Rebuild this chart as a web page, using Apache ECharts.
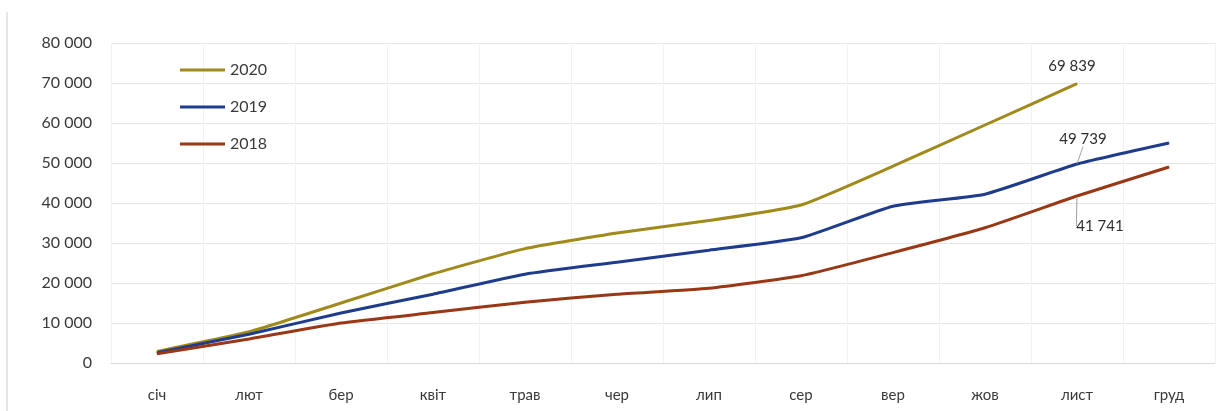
<!DOCTYPE html>
<html>
<head>
<meta charset="utf-8">
<script src="https://cdn.jsdelivr.net/npm/echarts@6/dist/echarts.min.js"></script>
<style>
  html, body { margin: 0; padding: 0; background: #ffffff; }
  #chart { width: 1229px; height: 411px; }
</style>
</head>
<body>
<div id="chart"></div>
<script>
const months = ['січ', 'лют', 'бер', 'квіт', 'трав', 'чер', 'лип', 'сер', 'вер', 'жов', 'лист', 'груд'];
const seriesNames = ['2020', '2019', '2018'];
const values2020 = [2900, 7800, 15000, 22300, 28600, 32500, 35600, 39500, 49200, 59500, 69839, null];
const values2019 = [2600, 7200, 12500, 17200, 22200, 25200, 28200, 31300, 39200, 42200, 49739, 55000];
const values2018 = [2300, 6000, 10000, 12600, 15200, 17200, 18700, 21800, 27600, 33800, 41741, 49000];
const labelIndex = 10;

function fmt(v) {
  return String(Math.round(v)).replace(/\B(?=(\d{3})+(?!\d))/g, ' ');
}

const FONT = 'Lato, "Open Sans", sans-serif';
const colors = ['#a08a1c', '#1f3c8c', '#983816'];

function makeData(arr, labelCfg) {
  return arr.map((v, i) => {
    if (i === labelIndex && v != null) {
      return {
        value: v,
        label: Object.assign({
          show: true,
          formatter: (p) => fmt(p.value),
          color: '#2e2e2e',
          fontFamily: FONT,
          fontSize: 15
        }, labelCfg.label),
        labelLine: labelCfg.line ? { show: true, lineStyle: { color: '#a0a0a0', width: 1 } } : { show: false }
      };
    }
    return v;
  });
}

const chart = echarts.init(document.getElementById('chart'), null, { renderer: 'canvas' });

function lineSeries(name, idx, data, extra) {
  return Object.assign({
    name: name, type: 'line', smooth: 0.15,
    symbol: 'circle', symbolSize: 1, showSymbol: true,
    itemStyle: { color: colors[idx] },
    lineStyle: { width: 3, color: colors[idx] },
    data: data
  }, extra || {});
}

const option = {
  animation: false,
  backgroundColor: '#ffffff',
  color: colors,
  grid: { left: 111, right: 14, top: 43, bottom: 48, containLabel: false },
  legend: {
    orient: 'vertical',
    left: 175,
    top: 57,
    itemWidth: 45,
    itemHeight: 3,
    itemGap: 21,
    icon: 'rect',
    data: seriesNames,
    textStyle: { color: '#3a3a3a', fontFamily: FONT, fontSize: 16 }
  },
  xAxis: {
    type: 'category',
    data: months,
    boundaryGap: true,
    axisLine: { show: true, lineStyle: { color: '#d9d9d9', width: 1 } },
    axisTick: { show: false },
    axisLabel: { color: '#3a3a3a', fontFamily: FONT, fontSize: 15, margin: 25 },
    splitLine: { show: true, lineStyle: { color: '#f2f2f2', width: 1 } }
  },
  yAxis: {
    type: 'value',
    min: 0,
    max: 80000,
    interval: 10000,
    axisLine: { show: false },
    axisTick: { show: false },
    axisLabel: {
      color: '#3a3a3a', fontFamily: FONT, fontSize: 16, margin: 19,
      formatter: (v) => fmt(v)
    },
    splitLine: { show: true, lineStyle: { color: '#e6e6e6', width: 1 } }
  },
  graphic: [
    { type: 'line', shape: { x1: 7, y1: 12, x2: 7, y2: 411 }, style: { stroke: '#dedede', lineWidth: 1.5 }, silent: true }
  ],
  series: [
    lineSeries('2020', 0, makeData(values2020, { label: { position: 'top', offset: [-5, -4] }, line: false })),
    lineSeries('2019', 1, makeData(values2019, { label: { position: 'top' }, line: true }), {
      labelLayout: (p) => p.dataIndex === labelIndex ? { dx: 6, dy: -12 } : {}
    }),
    lineSeries('2018', 2, makeData(values2018, { label: { position: 'bottom' }, line: true }), {
      labelLayout: (p) => p.dataIndex === labelIndex ? { dx: 23, dy: 17 } : {}
    })
  ]
};

chart.setOption(option);
</script>
</body>
</html>
